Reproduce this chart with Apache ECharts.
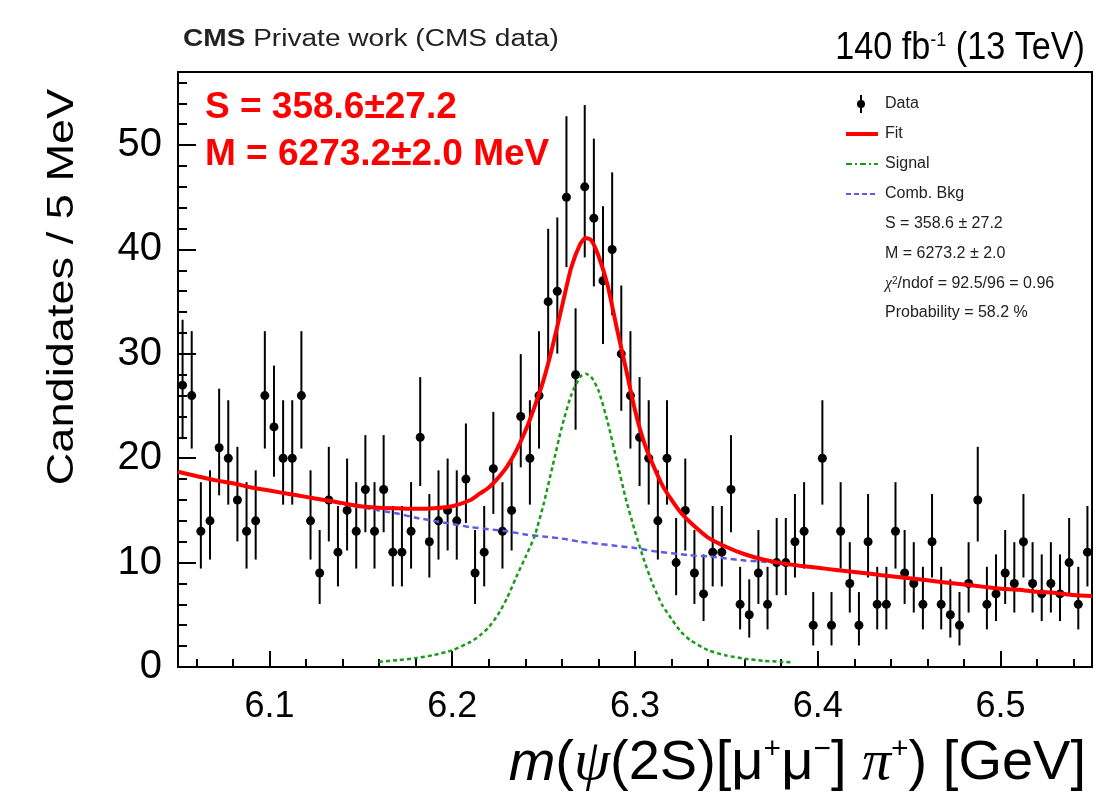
<!DOCTYPE html>
<html>
<head>
<meta charset="utf-8">
<script src="https://cdn.jsdelivr.net/npm/echarts@6/dist/echarts.min.js"></script>
<style>
  html, body { margin: 0; padding: 0; background: #fff; }
  #chart { width: 1096px; height: 796px; }
</style>
</head>
<body>
<div id="chart"></div>
<script>
// binning of the mass histogram (5 MeV bins)
const binLow = 6.05
const binWidth = 0.005

// candidates per bin
const counts = [
  27, 26, 13, 14, 21, 20, 16, 13, 14, 26,
  23, 20, 20, 26, 14, 9, 16, 11, 15, 13,
  17, 13, 17, 11, 11, 13, 22, 12, 14, 15,
  14, 18, 9, 11, 19, 13, 15, 24, 20, 26,
  35, 36, 45, 28, 46, 43, 37, 40, 30, 26,
  22, 20, 14, 20, 10, 15, 9, 7, 11, 11,
  17, 6, 5, 9, 6, 10, 10, 12, 13, 4,
  20, 4, 13, 8, 4, 12, 6, 6, 13, 9,
  8, 6, 12, 6, 5, 4, 8, 16, 6, 7,
  9, 8, 12, 8, 7, 8, 7, 10, 6, 11
]

// total fit curve
const fitMass = [
  6.05, 6.06, 6.07, 6.08, 6.09, 6.10, 6.11, 6.12, 6.13, 6.14,
  6.15, 6.16, 6.17, 6.18, 6.19, 6.20, 6.21, 6.215, 6.22, 6.225,
  6.23, 6.235, 6.24, 6.245, 6.25, 6.255, 6.26, 6.265, 6.27, 6.273,
  6.276, 6.28, 6.285, 6.29, 6.295, 6.30, 6.305, 6.31, 6.315, 6.32,
  6.325, 6.33, 6.34, 6.35, 6.36, 6.37, 6.38, 6.39, 6.40, 6.41,
  6.42, 6.43, 6.44, 6.45, 6.46, 6.47, 6.48, 6.49, 6.50, 6.51,
  6.52, 6.53, 6.54, 6.55
]
const fitValue = [
  18.7, 18.3, 17.9, 17.6, 17.2, 16.9, 16.6, 16.3, 16.0, 15.7,
  15.4, 15.25, 15.2, 15.15, 15.2, 15.4, 16.0, 16.6, 17.2, 18.1,
  19.2, 20.7, 22.6, 24.9, 27.5, 30.8, 34.5, 38.2, 40.5, 41.1,
  40.9, 39.4, 36.6, 32.5, 28.6, 24.6, 21.5, 19.3, 17.4, 16.0,
  14.8, 13.9, 12.4, 11.5, 10.8, 10.3, 9.95, 9.7, 9.5, 9.3,
  9.1, 8.9, 8.7, 8.5, 8.3, 8.1, 7.9, 7.7, 7.5, 7.4,
  7.2, 7.1, 6.9, 6.8
]

// signal component
const signalMass = [
  6.16, 6.17, 6.18, 6.19, 6.20, 6.21, 6.215, 6.22, 6.225, 6.23,
  6.235, 6.24, 6.245, 6.25, 6.255, 6.26, 6.265, 6.27, 6.273, 6.276,
  6.28, 6.285, 6.29, 6.295, 6.30, 6.305, 6.31, 6.315, 6.32, 6.325,
  6.33, 6.34, 6.35, 6.36, 6.37, 6.38, 6.386
]
const signalValue = [
  0.5, 0.65, 0.85, 1.15, 1.6, 2.4, 3.0, 3.8, 5.0, 6.6,
  8.6, 10.5, 12.5, 15.6, 19.3, 23.0, 26.0, 27.8, 28.1, 27.8,
  26.5, 23.5, 19.8, 16.1, 13.0, 10.2, 7.8, 5.9, 4.6, 3.4,
  2.6, 1.6, 1.1, 0.8, 0.6, 0.5, 0.45
]

// combinatorial background
const bkgMass = [
  6.05, 6.06, 6.07, 6.08, 6.09, 6.10, 6.11, 6.12, 6.13, 6.14,
  6.15, 6.16, 6.17, 6.18, 6.19, 6.20, 6.21, 6.22, 6.23, 6.24,
  6.25, 6.26, 6.27, 6.28, 6.29, 6.30, 6.31, 6.32, 6.33, 6.34,
  6.35, 6.36, 6.37, 6.38, 6.39, 6.40, 6.41, 6.42, 6.43, 6.44,
  6.45, 6.46, 6.47, 6.48, 6.49, 6.50, 6.51, 6.52, 6.53, 6.54,
  6.55
]
const bkgValue = [
  18.7, 18.3, 17.9, 17.6, 17.2, 16.9, 16.6, 16.3, 16.0, 15.6,
  15.3, 15.0, 14.7, 14.3, 14.0, 13.7, 13.4, 13.2, 13.0, 12.7,
  12.5, 12.3, 12.0, 11.8, 11.6, 11.4, 11.1, 10.9, 10.7, 10.6,
  10.4, 10.2, 10.1, 9.9, 9.7, 9.5, 9.3, 9.1, 8.9, 8.7,
  8.5, 8.3, 8.1, 7.9, 7.7, 7.5, 7.4, 7.2, 7.1, 6.9,
  6.8
]

// axis ticks
const xMajorTicks = [6.1, 6.2, 6.3, 6.4, 6.5]
const xMinorTicks = [6.06, 6.08, 6.12, 6.14, 6.16, 6.18, 6.22, 6.24, 6.26, 6.28,
  6.32, 6.34, 6.36, 6.38, 6.42, 6.44, 6.46, 6.48, 6.52, 6.54]
const yMajorTicks = [0, 10, 20, 30, 40, 50]
const yMinorTicks = [2, 4, 6, 8, 12, 14, 16, 18, 22, 24, 26, 28, 32, 34, 36, 38,
  42, 44, 46, 48, 52, 54, 56]

const legendLines = ['S = 358.6 \u00b1 27.2', 'M = 6273.2 \u00b1 2.0',
  '{g|\u03c7}{s|2}/ndof = 92.5/96 = 0.96', 'Probability = 58.2 %']

// poisson (garwood-like) asymmetric errors
function poissonErr(n) {
  return [n > 0 ? Math.sqrt(n - 0.25) : 0, Math.sqrt(n + 0.75) + 1]
}

const points = counts.map((n, i) => {
  const err = poissonErr(n)
  return [binLow + (i + 0.5) * binWidth, n, n - err[0], n + err[1]]
})
const zip = (xs, ys) => xs.map((x, i) => [x, ys[i]])

const chart = echarts.init(document.getElementById('chart'))

const SANS = 'Liberation Sans, Arial, Helvetica, sans-serif'
const SERIF = 'Liberation Serif, Times New Roman, serif'

function renderPoint(params, api) {
  const x = api.value(0)
  const c = api.coord([x, api.value(1)])
  const lo = api.coord([x, api.value(2)])
  const hi = api.coord([x, api.value(3)])
  return {
    type: 'group',
    children: [
      { type: 'line', shape: { x1: hi[0], y1: hi[1], x2: lo[0], y2: lo[1] }, style: { stroke: '#000', lineWidth: 2 } },
      { type: 'circle', shape: { cx: c[0], cy: c[1], r: 4.5 }, style: { fill: '#000' } }
    ]
  }
}

const legendX = 846
const legendTextX = 885
const legendRowY = [104, 134, 164, 194, 224, 254, 284, 313]

const graphics = [
  // header
  { type: 'text', x: 183, y: 40, scaleX: 1.22, style: { text: '{b|CMS} Private work (CMS data)', font: '23px ' + SANS, fill: '#222', verticalAlign: 'middle',
      rich: { b: { fontWeight: 'bold', fontSize: 23, fontFamily: SANS } } } },
  { type: 'text', x: 1085, y: 49, scaleX: 0.9, style: { text: '140 fb{s|-1} (13 TeV)', font: '38px ' + SANS, fill: '#000', align: 'right', verticalAlign: 'middle',
      rich: { s: { fontSize: 20, fontFamily: SANS, verticalAlign: 'top' } } } },
  // fit results in red
  { type: 'text', x: 205, y: 108, style: { text: 'S = 358.6\u00b127.2', font: 'bold 37px ' + SANS, fill: '#ff0000', verticalAlign: 'middle' } },
  { type: 'text', x: 205, y: 155, style: { text: 'M = 6273.2\u00b12.0 MeV', font: 'bold 37px ' + SANS, fill: '#ff0000', verticalAlign: 'middle' } },
  // axis titles
  { type: 'text', x: 63, y: 287, rotation: Math.PI / 2, scaleX: 1.22,
    style: { text: 'Candidates / 5 MeV', font: '37px ' + SANS, fill: '#000', align: 'center', verticalAlign: 'middle' } },
  { type: 'text', x: 1086, y: 764,
    style: { text: '{i|m}({g|\u03c8}(2S)[\u03bc{s|+}\u03bc{s|\u2212}] {g|\u03c0}{s|+}) [GeV]', font: '56px ' + SANS, fill: '#000', align: 'right', verticalAlign: 'middle',
      rich: {
        i: { fontStyle: 'italic', fontSize: 56, fontFamily: SANS },
        g: { fontStyle: 'italic', fontSize: 58, fontFamily: SERIF },
        s: { fontSize: 30, fontFamily: SANS, verticalAlign: 'top' }
      } } },
  // legend
  { type: 'line', shape: { x1: 861, y1: legendRowY[0] - 9, x2: 861, y2: legendRowY[0] + 9 }, style: { stroke: '#000', lineWidth: 2 } },
  { type: 'circle', shape: { cx: 861, cy: legendRowY[0], r: 4 }, style: { fill: '#000' } },
  { type: 'line', shape: { x1: legendX, y1: legendRowY[1], x2: legendX + 32, y2: legendRowY[1] }, style: { stroke: '#ff0000', lineWidth: 4 } },
  { type: 'line', shape: { x1: legendX, y1: legendRowY[2], x2: legendX + 32, y2: legendRowY[2] }, style: { stroke: '#1a9a1a', lineWidth: 2, lineDash: [6, 3, 2, 3] } },
  { type: 'line', shape: { x1: legendX, y1: legendRowY[3], x2: legendX + 32, y2: legendRowY[3] }, style: { stroke: '#5c5ce6', lineWidth: 2, lineDash: [5, 3] } }
]
const legendNames = ['Data', 'Fit', 'Signal', 'Comb. Bkg'].concat(legendLines)
legendNames.forEach((t, i) => {
  graphics.push({ type: 'text', x: legendTextX, y: legendRowY[i],
    style: { text: t, font: '16px ' + SANS, fill: '#222', verticalAlign: 'middle',
      rich: { g: { fontSize: 16, fontFamily: SERIF, fontStyle: 'italic' }, s: { fontSize: 10, verticalAlign: 'top' } } } })
})

const option = {
  animation: false,
  backgroundColor: '#fff',
  grid: { left: 178, top: 72, right: 4, bottom: 129, show: true, borderColor: '#000', borderWidth: 2, containLabel: false },
  xAxis: [
    {
      type: 'value', min: 6.05, max: 6.55,
      axisLine: { show: true, onZero: false, lineStyle: { color: '#000', width: 2 } },
      axisTick: { show: true, inside: true, length: 16, customValues: xMajorTicks, lineStyle: { color: '#000', width: 2 } },
      axisLabel: { show: true, customValues: xMajorTicks, margin: 22, fontSize: 36, fontFamily: SANS, color: '#000',
        formatter: v => v.toFixed(1) },
      splitLine: { show: false }
    },
    {
      type: 'value', min: 6.05, max: 6.55, position: 'bottom',
      axisLine: { show: false },
      axisTick: { show: true, inside: true, length: 8, customValues: xMinorTicks, lineStyle: { color: '#000', width: 2 } },
      axisLabel: { show: false },
      splitLine: { show: false }
    }
  ],
  yAxis: [
    {
      type: 'value', min: 0, max: 57,
      axisLine: { show: true, onZero: false, lineStyle: { color: '#000', width: 2 } },
      axisTick: { show: true, inside: true, length: 18, customValues: yMajorTicks, lineStyle: { color: '#000', width: 2 } },
      axisLabel: { show: true, customValues: yMajorTicks, margin: 16, fontSize: 40, fontFamily: SANS, color: '#000' },
      splitLine: { show: false }
    },
    {
      type: 'value', min: 0, max: 57, position: 'left',
      axisLine: { show: false },
      axisTick: { show: true, inside: true, length: 9, customValues: yMinorTicks, lineStyle: { color: '#000', width: 2 } },
      axisLabel: { show: false },
      splitLine: { show: false }
    }
  ],
  series: [
    {
      name: 'Data', type: 'custom', renderItem: renderPoint, data: points,
      encode: { x: 0, y: [1, 2, 3] }, z: 2, clip: true
    },
    {
      name: 'Comb. Bkg', type: 'line', data: zip(bkgMass, bkgValue), showSymbol: false, smooth: 0.2,
      lineStyle: { color: '#5c5ce6', width: 2.5, type: [6, 4] }, z: 3
    },
    {
      name: 'Signal', type: 'line', data: zip(signalMass, signalValue), showSymbol: false, smooth: 0.2,
      lineStyle: { color: '#1a9a1a', width: 2.5, type: [4, 3] }, z: 3
    },
    {
      name: 'Fit', type: 'line', data: zip(fitMass, fitValue), showSymbol: false, smooth: 0.2,
      lineStyle: { color: '#ff0000', width: 4 }, z: 4
    }
  ],
  graphic: graphics
}

chart.setOption(option)
</script>
</body>
</html>
